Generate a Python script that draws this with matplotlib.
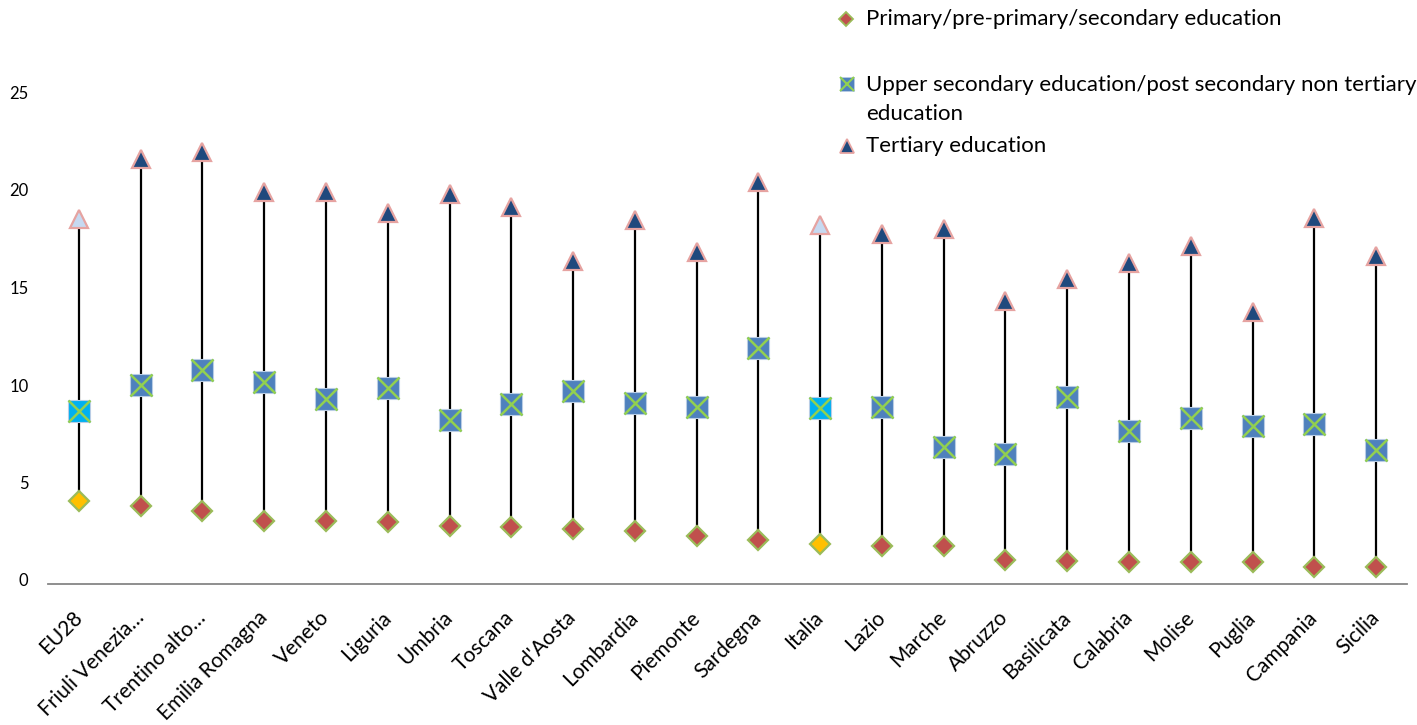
import matplotlib
matplotlib.use("Agg")
import matplotlib.pyplot as plt
from matplotlib.lines import Line2D
from matplotlib.transforms import ScaledTranslation

plt.rcParams['font.family'] = ['Lato', 'DejaVu Sans']

regions = ["EU28", "Friuli Venezia…", "Trentino alto…", "Emilia Romagna", "Veneto",
           "Liguria", "Umbria", "Toscana", "Valle d'Aosta", "Lombardia", "Piemonte",
           "Sardegna", "Italia", "Lazio", "Marche", "Abruzzo", "Basilicata", "Calabria",
           "Molise", "Puglia", "Campania", "Sicilia"]

primary = [4.27, 4.00, 3.75, 3.25, 3.25, 3.20, 2.97, 2.91, 2.84, 2.70, 2.46,
           2.26, 2.05, 1.96, 1.97, 1.23, 1.20, 1.13, 1.11, 1.11, 0.89, 0.86]

upper_secondary = [8.86, 10.18, 10.96, 10.38, 9.49, 10.05, 8.42, 9.24, 9.91, 9.29, 9.09,
                   12.10, 9.01, 9.09, 7.03, 6.65, 9.59, 7.83, 8.52, 8.12, 8.19, 6.86]

tertiary = [18.73, 21.81, 22.13, 20.08, 20.08, 19.05, 20.01, 19.32, 16.57, 18.67, 17.04,
            20.63, 18.41, 17.96, 18.21, 14.52, 15.66, 16.47, 17.32, 13.95, 18.75, 16.82]

benchmarks = ["EU28", "Italia"]

y_ticks = [0, 5, 10, 15, 20, 25]

legend_labels = ["Primary/pre-primary/secondary education",
                 "Upper secondary education/post secondary non tertiary\neducation",
                 "Tertiary education"]

# colours
DIA_FACE, DIA_FACE_B = "#C0504D", "#FFC000"
SQ_FACE, SQ_FACE_B = "#4F81BD", "#00B0F0"
TRI_FACE, TRI_FACE_B = "#1F497D", "#C6D9F1"
GREEN = "#9BBB59"
X_GREEN = "#92D050"
PINK = "#E6A3A1"

W, H = 1417, 725
fig = plt.figure(figsize=(W / 100, H / 100), dpi=100)
ax = fig.add_axes([48 / W, (H - 584) / H, (1407 - 48) / W, (584 - 96.5) / H])

x = list(range(len(regions)))

# high-low lines
ax.vlines(x, primary, tertiary, color="black", linewidth=1.6, zorder=2)

for i, name in enumerate(regions):
    bench = name in benchmarks
    ax.plot(i, primary[i], marker="D", markersize=10, markerfacecolor=DIA_FACE_B if bench else DIA_FACE,
            markeredgecolor=GREEN, markeredgewidth=1.6, linestyle="none", zorder=3)
    ax.plot(i, upper_secondary[i], marker="s", markersize=16.5,
            markerfacecolor=SQ_FACE_B if bench else SQ_FACE,
            markeredgecolor="#B9CDE5", markeredgewidth=0.8, linestyle="none", zorder=3)
    ax.plot(i, upper_secondary[i], marker="x", markersize=15.5, markeredgecolor=X_GREEN,
            markeredgewidth=1.8, linestyle="none", zorder=4)
    ax.plot(i, tertiary[i], marker="^", markersize=13.5, markerfacecolor=TRI_FACE_B if bench else TRI_FACE,
            markeredgecolor=PINK, markeredgewidth=1.6, linestyle="none", zorder=3)

ax.set_xlim(-0.5, len(regions) - 0.5)
ax.set_ylim(0, 25)
ax.set_yticks(y_ticks)
ax.set_xticks(x)
ax.set_xticklabels(regions, rotation=45, ha="right", va="center", rotation_mode="anchor",
                   fontsize=15)
ax.tick_params(axis="x", length=0, pad=22)
ax.tick_params(axis="y", length=0, pad=14, labelsize=12)
lift = ScaledTranslation(0, 0.04, fig.dpi_scale_trans)
for lbl in ax.get_yticklabels():
    lbl.set_transform(lbl.get_transform() + lift)
for s in ["top", "right", "left"]:
    ax.spines[s].set_visible(False)
ax.spines["bottom"].set_color("#868686")
ax.spines["bottom"].set_linewidth(1.3)
ax.patch.set_alpha(0)


def fx(px):
    return px / W


def fy(py):
    return 1 - py / H


# legend, drawn in figure coordinates
leg_font = 16
fig.add_artist(Line2D([fx(846)], [fy(19)], transform=fig.transFigure, marker="D", markersize=7.5,
                      markerfacecolor=DIA_FACE, markeredgecolor=GREEN, markeredgewidth=1.3, linestyle="none"))
fig.add_artist(Line2D([fx(847)], [fy(84)], transform=fig.transFigure, marker="s", markersize=10.5,
                      markerfacecolor=SQ_FACE, markeredgecolor="#B9CDE5", markeredgewidth=0.6, linestyle="none"))
fig.add_artist(Line2D([fx(847)], [fy(84)], transform=fig.transFigure, marker="x", markersize=10,
                      markeredgecolor=X_GREEN, markeredgewidth=1.5, linestyle="none"))
fig.add_artist(Line2D([fx(847)], [fy(146)], transform=fig.transFigure, marker="^", markersize=9.5,
                      markerfacecolor=TRI_FACE, markeredgecolor=PINK, markeredgewidth=1.3, linestyle="none"))

fig.text(fx(866), fy(19), legend_labels[0], fontsize=leg_font, va="center", ha="left")
fig.text(fx(866), fy(75), legend_labels[1], fontsize=leg_font, va="top", ha="left", linespacing=1.55)
fig.text(fx(866), fy(146), legend_labels[2], fontsize=leg_font, va="center", ha="left")

fig.savefig("out.png", dpi=100, facecolor="white")
